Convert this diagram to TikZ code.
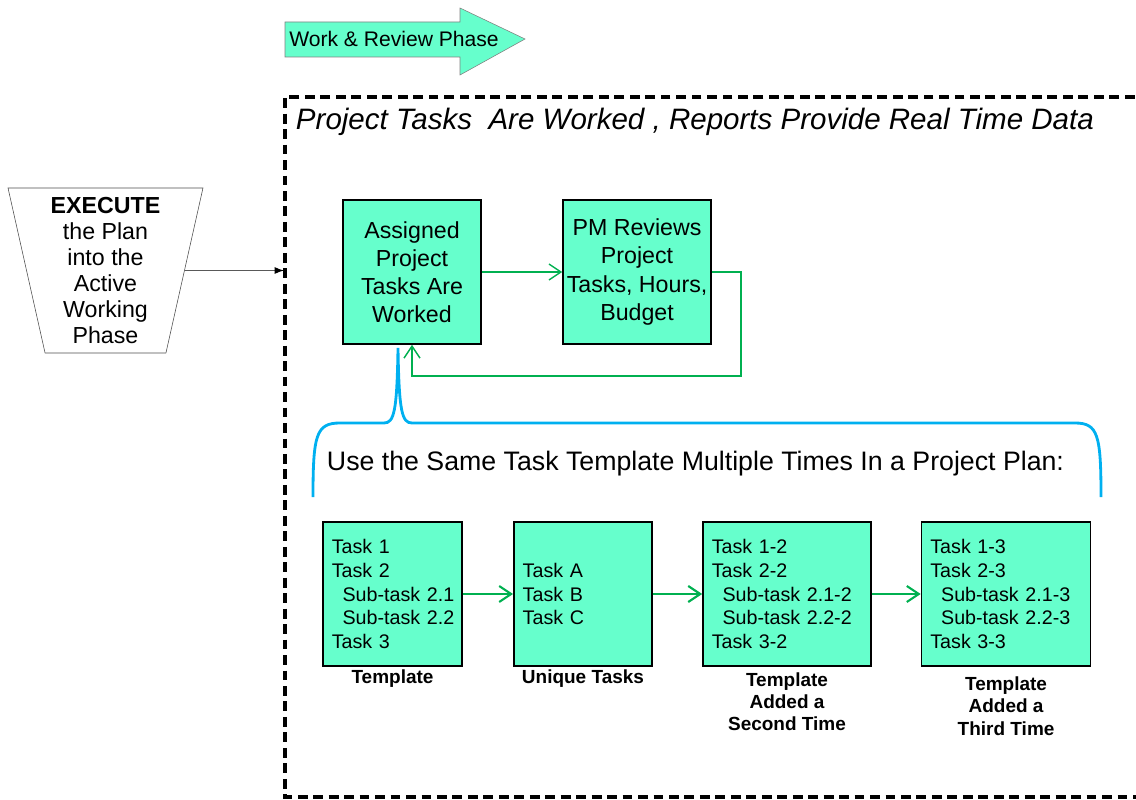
\documentclass[tikz,border=0pt]{standalone}
\usepackage{fontspec}
\setmainfont{Liberation Sans}
\usetikzlibrary{arrows.meta, positioning, shapes.geometric}
\definecolor{aqua}{RGB}{102,255,204}
\definecolor{flowgreen}{RGB}{0,176,80}
\definecolor{braceblue}{RGB}{0,176,240}
\newcommand{\subtask}[1]{\hspace*{0.27cm}\mbox{#1}}

\begin{document}
\begin{tikzpicture}[x=0.025cm, y=-0.025cm,
        greenbox/.style = {draw, fill=aqua, line width=1.2pt, inner sep=2pt},
        main/.style = {greenbox, align=center, minimum height=3.6cm, font=\fontsize{16.5}{20}\selectfont},
        taskbox/.style = {greenbox, minimum height=3.6cm, text width=#1, inner xsep=0.22cm, align=left, font=\fontsize{14}{17}\selectfont},
        lbl/.style = {align=center, inner sep=1pt, font=\bfseries\fontsize{13.5}{15.8}\selectfont},
        flow/.style = {draw=flowgreen, -{Straight Barb[length=3mm, width=4mm]}}]
    \useasboundingbox (0,0) rectangle (1136,800);

    % phase banner
    \draw[fill=aqua, draw=gray] (285,22) -- (460,22) -- (460,8) -- (525,39) -- (460,75) -- (460,57) -- (285,57) -- cycle;
    \node[anchor=west, inner sep=0pt, font=\fontsize{15}{18}\selectfont] (phase) at (289,39) {Work \& Review Phase};

    % dashed frame
    \draw[line width=2.2pt, dash pattern=on 7pt off 4pt] (1150,97) -- (285,97) -- (285,797) -- (1150,797);
    \coordinate (frame) at (284,271);
    \node[anchor=west, font=\itshape\fontsize{21}{25}\selectfont] (title) at (291,122) {Project Tasks\ \ Are Worked , Reports Provide Real Time Data};

    \node[trapezium, trapezium angle=77, shape border rotate=180, trapezium stretches=true,
          draw=gray!60!black, minimum width=4.875cm, minimum height=4.125cm, align=center, inner sep=1pt,
          font=\fontsize{16.5}{18.5}\selectfont] (exec) at (105.5,270.5)
          {\textbf{EXECUTE}\\the Plan\\into the\\Active\\Working\\Phase};
    \draw[-{Latex[black]}, gray!70!black, line width=0.8pt] (exec.east) -- (exec.east -| frame);

    % work and review loop
    \node[main, minimum width=3.45cm] (assigned) at (412,272) {Assigned\\Project\\Tasks Are\\Worked};
    \node[main, minimum width=3.7cm, right of=assigned, node distance=5.625cm] (pm) {PM Reviews\\Project\\Tasks, Hours,\\Budget};
    \coordinate (loop) at (741,376);
    \draw[flow, line width=1pt] (assigned) -- (pm);
    \draw[flow, line width=1pt] (pm.east) -| (loop) -| (assigned.south);

    % brace
    \coordinate (tip) at (398,348);
    \draw[braceblue, line width=2pt] (313,497) .. controls (313,435) and (316,423) .. (340,423) -- (384,423)
        .. controls (394,423) and (397,412) .. (tip)
        .. controls (399,412) and (402,423) .. (412,423) -- (1075,423)
        .. controls (1098,423) and (1101,435) .. (1101,497);
    \node[anchor=west, font=\fontsize{19}{22}\selectfont] (usetpl) at (322,464) {Use the Same Task Template Multiple Times In a Project Plan:};

    % template boxes
    \node[taskbox=3.035cm] (tpl) at (392.5,594) {Task 1\\Task 2\\\subtask{Sub-task 2.1}\\\subtask{Sub-task 2.2}\\Task 3};
    \node[taskbox=3.01cm, right of=tpl, node distance=4.76cm] (uniq) {Task A\\Task B\\Task C};
    \node[taskbox=3.76cm, right of=uniq, node distance=5.1cm] (tpl2) {Task 1-2\\Task 2-2\\\subtask{Sub-task 2.1-2}\\\subtask{Sub-task 2.2-2}\\Task 3-2};
    \node[taskbox=3.785cm, right of=tpl2, node distance=5.475cm] (tpl3) {Task 1-3\\Task 2-3\\\subtask{Sub-task 2.1-3}\\\subtask{Sub-task 2.2-3}\\Task 3-3};

    \node[lbl, below=1pt of tpl] (tpllbl) {Template};
    \node[lbl, below=1pt of uniq] (uniqlbl) {Unique Tasks};
    \node[lbl, below=3pt of tpl2] (tpl2lbl) {Template\\Added a\\Second Time};
    \node[lbl, below=6pt of tpl3] (tpl3lbl) {Template\\Added a\\Third Time};

    \draw[flow, line width=1.5pt] (tpl) -- (uniq);
    \draw[flow, line width=1.5pt] (uniq) -- (tpl2);
    \draw[flow, line width=1.5pt] (tpl2) -- (tpl3);
\end{tikzpicture}
\end{document}
